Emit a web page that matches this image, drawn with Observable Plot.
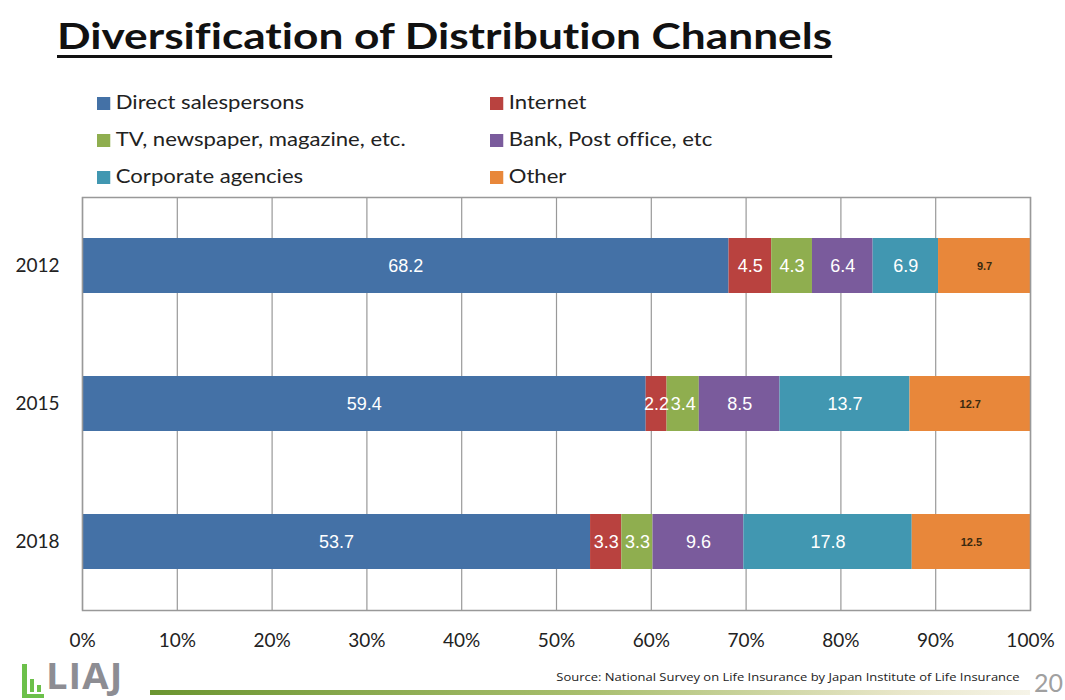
<!DOCTYPE html>
<html>
<head>
<meta charset="utf-8">
<script src="https://cdn.jsdelivr.net/npm/d3@7"></script>
<script src="https://cdn.jsdelivr.net/npm/@observablehq/plot@0.6"></script>
<style>
  body { margin: 0; background: #fff; }
  #wrap { position: relative; width: 1065px; height: 700px; overflow: hidden; font-family: Lato, "Open Sans", sans-serif; font-variant-ligatures: none; }
  #title { position: absolute; left: 57px; top: 12px; font-size: 37px; font-weight: bold; color: #111; text-decoration: underline; text-decoration-thickness: 3px; text-underline-offset: 6px; white-space: nowrap; transform: scaleX(1.195); transform-origin: left center; }
  .leg { position: absolute; font-size: 20px; color: #222; white-space: nowrap; line-height: 24px; transform: scaleX(1.105); transform-origin: left center; }
  .sw { display: inline-block; width: 12px; height: 13px; margin-right: 5px; vertical-align: -1px; }
  #chart { position: absolute; left: 0; top: 190px; }
  #source { position: absolute; right: 45px; top: 669px; font-size: 11px; color: #222; font-family: "Open Sans", sans-serif; transform: scaleX(1.18); transform-origin: right center; white-space: nowrap; }
  #page { position: absolute; left: 1034px; top: 668px; font-size: 25px; color: #a0a0a0; line-height: 28px; }
  #bar { position: absolute; left: 150px; top: 690px; width: 880px; height: 5px; background: linear-gradient(to right, #6b9530, #a9bf6e 50%, #e8e6c8 85%, #f6f4e8); }
  #logo { position: absolute; left: 46px; top: 663px; font-size: 36px; line-height: 26px; font-weight: bold; color: #8d8d93; letter-spacing: 1px; font-family: "Open Sans", sans-serif; transform: scaleX(1.06); transform-origin: left center; }
  .dot { position: absolute; background: #6cc04a; }
</style>
</head>
<body>
<div id="wrap">
  <div id="title">Diversification of Distribution Channels</div>
  <div id="legend"></div>
  <div id="chart"></div>
  <div class="dot" style="left:22px;top:664px;width:5px;height:32px;"></div>
  <div class="dot" style="left:22px;top:694px;width:22px;height:4px;"></div>
  <div class="dot" style="left:30px;top:679px;width:4px;height:13px;"></div>
  <div class="dot" style="left:37px;top:685px;width:4px;height:7px;"></div>
  <div id="logo">LIAJ</div>
  <div id="bar"></div>
  <div id="source">Source: National Survey on Life Insurance by Japan Institute of Life Insurance</div>
  <div id="page">20</div>
</div>
<script>
const years = ["2012", "2015", "2018"];
const channels = ["Direct salespersons", "Internet", "TV, newspaper, magazine, etc.", "Bank, Post office, etc", "Corporate agencies", "Other"];
const colors = ["#4471a6", "#b9423f", "#8fae4f", "#7a5b9c", "#4197b1", "#e8873a"];
const values2012 = [68.2, 4.5, 4.3, 6.4, 6.9, 9.7];
const values2015 = [59.4, 2.2, 3.4, 8.5, 13.7, 12.7];
const values2018 = [53.7, 3.3, 3.3, 9.6, 17.8, 12.5];
const xTicks = [0, 0.1, 0.2, 0.3, 0.4, 0.5, 0.6, 0.7, 0.8, 0.9, 1.0];

const series = [values2012, values2015, values2018];
const data = [];
years.forEach((y, i) => channels.forEach((c, j) => data.push({year: y, channel: c, value: series[i][j]})));

// legend (2 columns x 3 rows)
const legend = document.getElementById("legend");
channels.forEach((c, j) => {
  const col = j % 2, row = Math.floor(j / 2);
  const d = document.createElement("div");
  d.className = "leg";
  d.style.left = (col === 0 ? 97 : 490) + "px";
  d.style.top = (89 + row * 37) + "px";
  d.innerHTML = `<span class="sw" style="background:${colors[j]}"></span>${c}`;
  legend.appendChild(d);
});

const stackOpts = {offset: "normalize", order: channels};
const labelFont = "'Liberation Sans', Arial, sans-serif";
const chart = Plot.plot({
  width: 1065,
  height: 470,
  marginLeft: 82,
  marginRight: 35,
  marginTop: 7,
  marginBottom: 50,
  style: {fontFamily: "Lato, 'Open Sans', sans-serif", fontSize: "19px", color: "#222", background: "white"},
  x: {domain: [0, 1], ticks: xTicks, tickFormat: d3.format(".0%"), tickSize: 0, tickPadding: 23, label: null},
  y: {domain: years, paddingInner: 0.604, paddingOuter: 0.288, tickSize: 0, tickPadding: 23, label: null},
  color: {domain: channels, range: colors},
  marks: [
    Plot.gridX(xTicks, {stroke: "#999", strokeOpacity: 1, strokeWidth: 1.2}),
    Plot.barX(data, Plot.stackX({...stackOpts, x: "value", y: "year", z: "channel", fill: "channel"})),
    Plot.text(data, Plot.stackX({...stackOpts, x: "value", y: "year", z: "channel", text: d => d.channel === "Other" ? null : d.value.toFixed(1), fill: "white", fontSize: 18, fontFamily: labelFont})),
    Plot.text(data, Plot.stackX({...stackOpts, x: "value", y: "year", z: "channel", text: d => d.channel === "Other" ? d.value.toFixed(1) : null, fill: "#3a2a10", fontSize: 11, fontWeight: "bold", fontFamily: labelFont})),
    Plot.frame({stroke: "#999", strokeWidth: 1.5})
  ]
});
document.getElementById("chart").appendChild(chart);
</script>
</body>
</html>
